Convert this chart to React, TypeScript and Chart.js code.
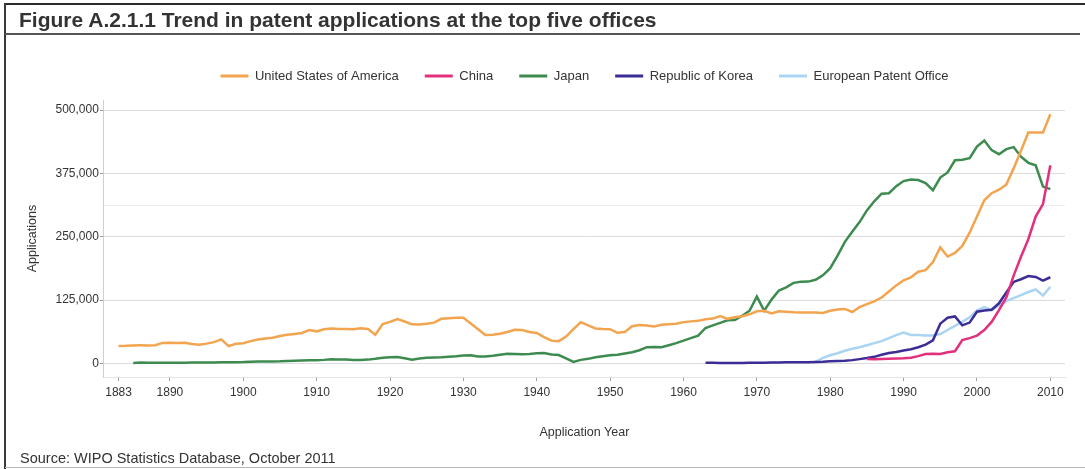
import React, { useEffect, useRef } from 'react';
import { Chart, registerables } from 'chart.js';

Chart.register(...registerables);

const FONT = '"Liberation Sans", Arial, Helvetica, sans-serif';

const seriesLabels = ['United States of America', 'China', 'Japan', 'Republic of Korea', 'European Patent Office'];
const seriesColors = ['#F2A44F', '#E2307D', '#3D8B4F', '#3B2D96', '#AAD4F4'];

const usStart = 1883;
const usValues = [
  34500, 34700, 35500, 35700, 35600, 35800, 40500, 41000, 40500, 40700,
  38500, 37000, 39100, 42000, 47500, 34000, 38900, 40000, 44000, 47300,
  49400, 50500, 54000, 56500, 58200, 60100, 65800, 63300, 67400, 69000,
  68100, 67800, 67500, 69200, 68000, 56500, 77600, 82000, 87500, 82800,
  77100, 76700, 78500, 80500, 88000, 89000, 90000, 90000, 79000, 67500,
  56000, 56500, 58500, 62000, 66500, 66000, 62000, 60000, 52000, 45000,
  44000, 53000, 67500, 81500, 75000, 69000, 68000, 67500, 60500, 62000,
  73500, 76000, 75000, 73000, 76500, 77500, 78500, 81500, 83000, 84000,
  87000, 88500, 93500, 88000, 91000, 93000, 97000, 103000, 104000, 98500,
  103000, 102000, 101000, 100500, 100500, 100500, 99500, 104000, 106500, 107500,
  101500, 111000, 117000, 122500, 130000, 142000, 154000, 164000, 170000, 181000,
  184000, 200000, 229000, 211000, 218000, 232000, 258000, 290000, 322000, 336000,
  343000, 353000, 385000, 420000, 456000, 456000, 456000, 492000,
];

const chinaStart = 1985;
const chinaValues = [
  8600, 8000, 8500, 9000, 9500, 10100, 11400, 14400, 18500, 19100,
  18700, 21900, 24000, 46000, 50000, 55000, 66000, 82000, 105300, 130400,
  173300, 210500, 245200, 289800, 314600, 391200,
];

const japanStart = 1885;
const japanValues = [
  1000, 2000, 1500, 1200, 1300, 1400, 1500, 1500, 1600, 1700,
  1800, 2000, 2300, 2500, 2500, 2600, 3500, 3800, 3800, 4000,
  4300, 5000, 5500, 6000, 6500, 6500, 7000, 8000, 7500, 7500,
  7000, 7000, 7500, 9000, 11000, 12000, 12500, 10000, 7500, 9500,
  11000, 11500, 12000, 13000, 14000, 15500, 16000, 13500, 13500, 15000,
  17000, 19000, 18500, 18000, 18500, 20000, 20500, 17500, 16500, 10000,
  3000, 7000, 9000, 12000, 14000, 16000, 17000, 19500, 22000, 26000,
  32000, 32500, 32000, 36000, 40000, 45000, 50000, 55000, 70000, 75000,
  80000, 85000, 85500, 94000, 104000, 132000, 104000, 126000, 144000, 150000,
  159000, 161000, 161500, 165000, 174000, 188000, 213000, 240000, 260000, 279000,
  302000, 320000, 335000, 336000, 350000, 360000, 363000, 362000, 356000, 342000,
  367000, 377000, 401000, 402000, 405000, 428000, 440000, 421000, 413000, 423000,
  427000, 408000, 396000, 391000, 349000, 344000,
];

const koreaStart = 1963;
const koreaValues = [
  1500, 1200, 1000, 800, 900, 1000, 1200, 1300, 1500, 1600,
  2000, 2200, 2300, 2300, 2500, 3000, 3500, 4500, 5000, 5500,
  6500, 8500, 10500, 13000, 17000, 20500, 22500, 25500, 28000, 32000,
  37000, 45700, 78500, 90300, 92700, 75200, 80600, 102000, 104600, 106100,
  118700, 140100, 160900, 166200, 172500, 170600, 163500, 170100,
];

const epoStart = 1978;
const epoValues = [
  3000, 11000, 16000, 20000, 25000, 29000, 32000, 36000, 40000, 44000,
  50000, 56000, 61000, 56000, 56000, 55000, 55000, 58000, 66000, 74000,
  82000, 91000, 105000, 111000, 105000, 115000, 123000, 129000, 135000, 141000,
  146000, 134000, 151000,
];

const xTickYears = [1883, 1890, 1900, 1910, 1920, 1930, 1940, 1950, 1960, 1970, 1980, 1990, 2000, 2010];
const yTickValues = [0, 125000, 250000, 375000, 500000];
const faintGridValue = 312500;

const seriesStarts = [usStart, chinaStart, japanStart, koreaStart, epoStart];
const seriesValues = [usValues, chinaValues, japanValues, koreaValues, epoValues];

const toPoints = (start: number, vals: number[]) => vals.map((v, i) => ({ x: start + i, y: v }));

const legendSpacing = {
  id: 'legendSpacing',
  beforeInit(chart: any) {
    const legend = chart.legend;
    if (!legend) return;
    const origFit = legend.fit;
    legend.fit = function () {
      origFit.call(this);
      this.height += 7.5;
    };
  },
};

export default function App() {
  const canvasRef = useRef<HTMLCanvasElement | null>(null);

  useEffect(() => {
    if (!canvasRef.current) return;
    Chart.defaults.font.family = FONT;
    const datasets = seriesLabels.map((label, i) => ({
      label,
      data: toPoints(seriesStarts[i], seriesValues[i]),
      borderColor: seriesColors[i],
      backgroundColor: seriesColors[i],
      pointBorderColor: seriesColors[i],
      pointBackgroundColor: seriesColors[i],
      pointBorderWidth: 3,
      borderWidth: 2.5,
      pointRadius: 0,
      pointHoverRadius: 0,
      tension: 0,
      fill: false,
    }));

    const chart = new Chart(canvasRef.current, {
      type: 'line',
      data: { datasets },
      options: {
        animation: false,
        responsive: false,
        maintainAspectRatio: false,
        layout: { padding: { top: 43.5, left: 10, right: 20, bottom: 28.5 } },
        plugins: {
          legend: {
            position: 'top',
            fullSize: false,
            labels: {
              usePointStyle: true,
              pointStyle: 'line',
              pointStyleWidth: 28,
              padding: 26,
              color: '#333',
              font: { size: 13, family: FONT },
            },
          },
          tooltip: { enabled: false },
          title: { display: false },
        },
        scales: {
          x: {
            type: 'linear',
            min: 1881,
            max: 2012,
            afterBuildTicks: (scale: any) => {
              scale.ticks = xTickYears.map((v) => ({ value: v }));
            },
            ticks: {
              callback: (v: any) => String(v),
              autoSkip: false,
              maxRotation: 0,
              padding: 4,
              color: '#333',
              font: { size: 12, family: FONT },
            },
            grid: { drawOnChartArea: false, tickLength: 4, color: '#a0a0a0' },
            border: { color: '#e4e4e4' },
            title: {
              display: true,
              text: 'Application Year',
              color: '#333',
              font: { size: 12.5, family: FONT },
              padding: { top: 22, bottom: 0 },
            },
          },
          y: {
            min: -27000,
            max: 520000,
            afterBuildTicks: (scale: any) => {
              scale.ticks = [...yTickValues, faintGridValue]
                .sort((a, b) => a - b)
                .map((v) => ({ value: v }));
            },
            ticks: {
              callback: (v: any) => (v === faintGridValue ? '' : Number(v).toLocaleString('en-US')),
              padding: 1,
              color: '#333',
              font: { size: 12, family: FONT },
            },
            grid: {
              color: (ctx: any) => (ctx.tick && ctx.tick.value === faintGridValue ? '#ececec' : '#dcdcdc'),
              tickColor: (ctx: any) => (ctx.tick && ctx.tick.value === faintGridValue ? 'rgba(0,0,0,0)' : '#999'),
              tickLength: 4,
            },
            border: { color: '#cfcfcf' },
            title: {
              display: true,
              text: 'Applications',
              color: '#333',
              font: { size: 12.5, family: FONT },
              padding: { top: 15.5, bottom: 14 },
            },
          },
        },
      },
      plugins: [legendSpacing],
    } as any);

    return () => chart.destroy();
  }, []);

  return (
    <div
      style={{
        position: 'absolute',
        left: 0,
        top: 0,
        width: 1085,
        height: 469,
        background: '#fff',
        overflow: 'hidden',
        fontFamily: FONT,
      }}
    >
      <canvas ref={canvasRef} width={1085} height={469} style={{ position: 'absolute', left: 0, top: 0, display: 'block' }} />
      <div style={{ position: 'absolute', left: 5, top: 3, width: 1080, height: 2, background: '#2b2b2b' }} />
      <div style={{ position: 'absolute', left: 4, top: 3, width: 2, height: 466, background: '#3a3a3a' }} />
      <div style={{ position: 'absolute', left: 5, top: 33, width: 1075, height: 1.5, background: '#555' }} />
      <div style={{ position: 'absolute', left: 5, top: 467, width: 1080, height: 1, background: '#bbb' }} />
      <div
        style={{
          position: 'absolute',
          left: 19,
          top: 9,
          fontSize: 21,
          lineHeight: '21px',
          fontWeight: 'bold',
          color: '#333',
          whiteSpace: 'nowrap',
        }}
      >
        Figure A.2.1.1 Trend in patent applications at the top five offices
      </div>
      <div
        style={{
          position: 'absolute',
          left: 20,
          top: 451,
          fontSize: 14.5,
          lineHeight: '14.5px',
          color: '#333',
          whiteSpace: 'nowrap',
        }}
      >
        Source: WIPO Statistics Database, October 2011
      </div>
    </div>
  );
}
